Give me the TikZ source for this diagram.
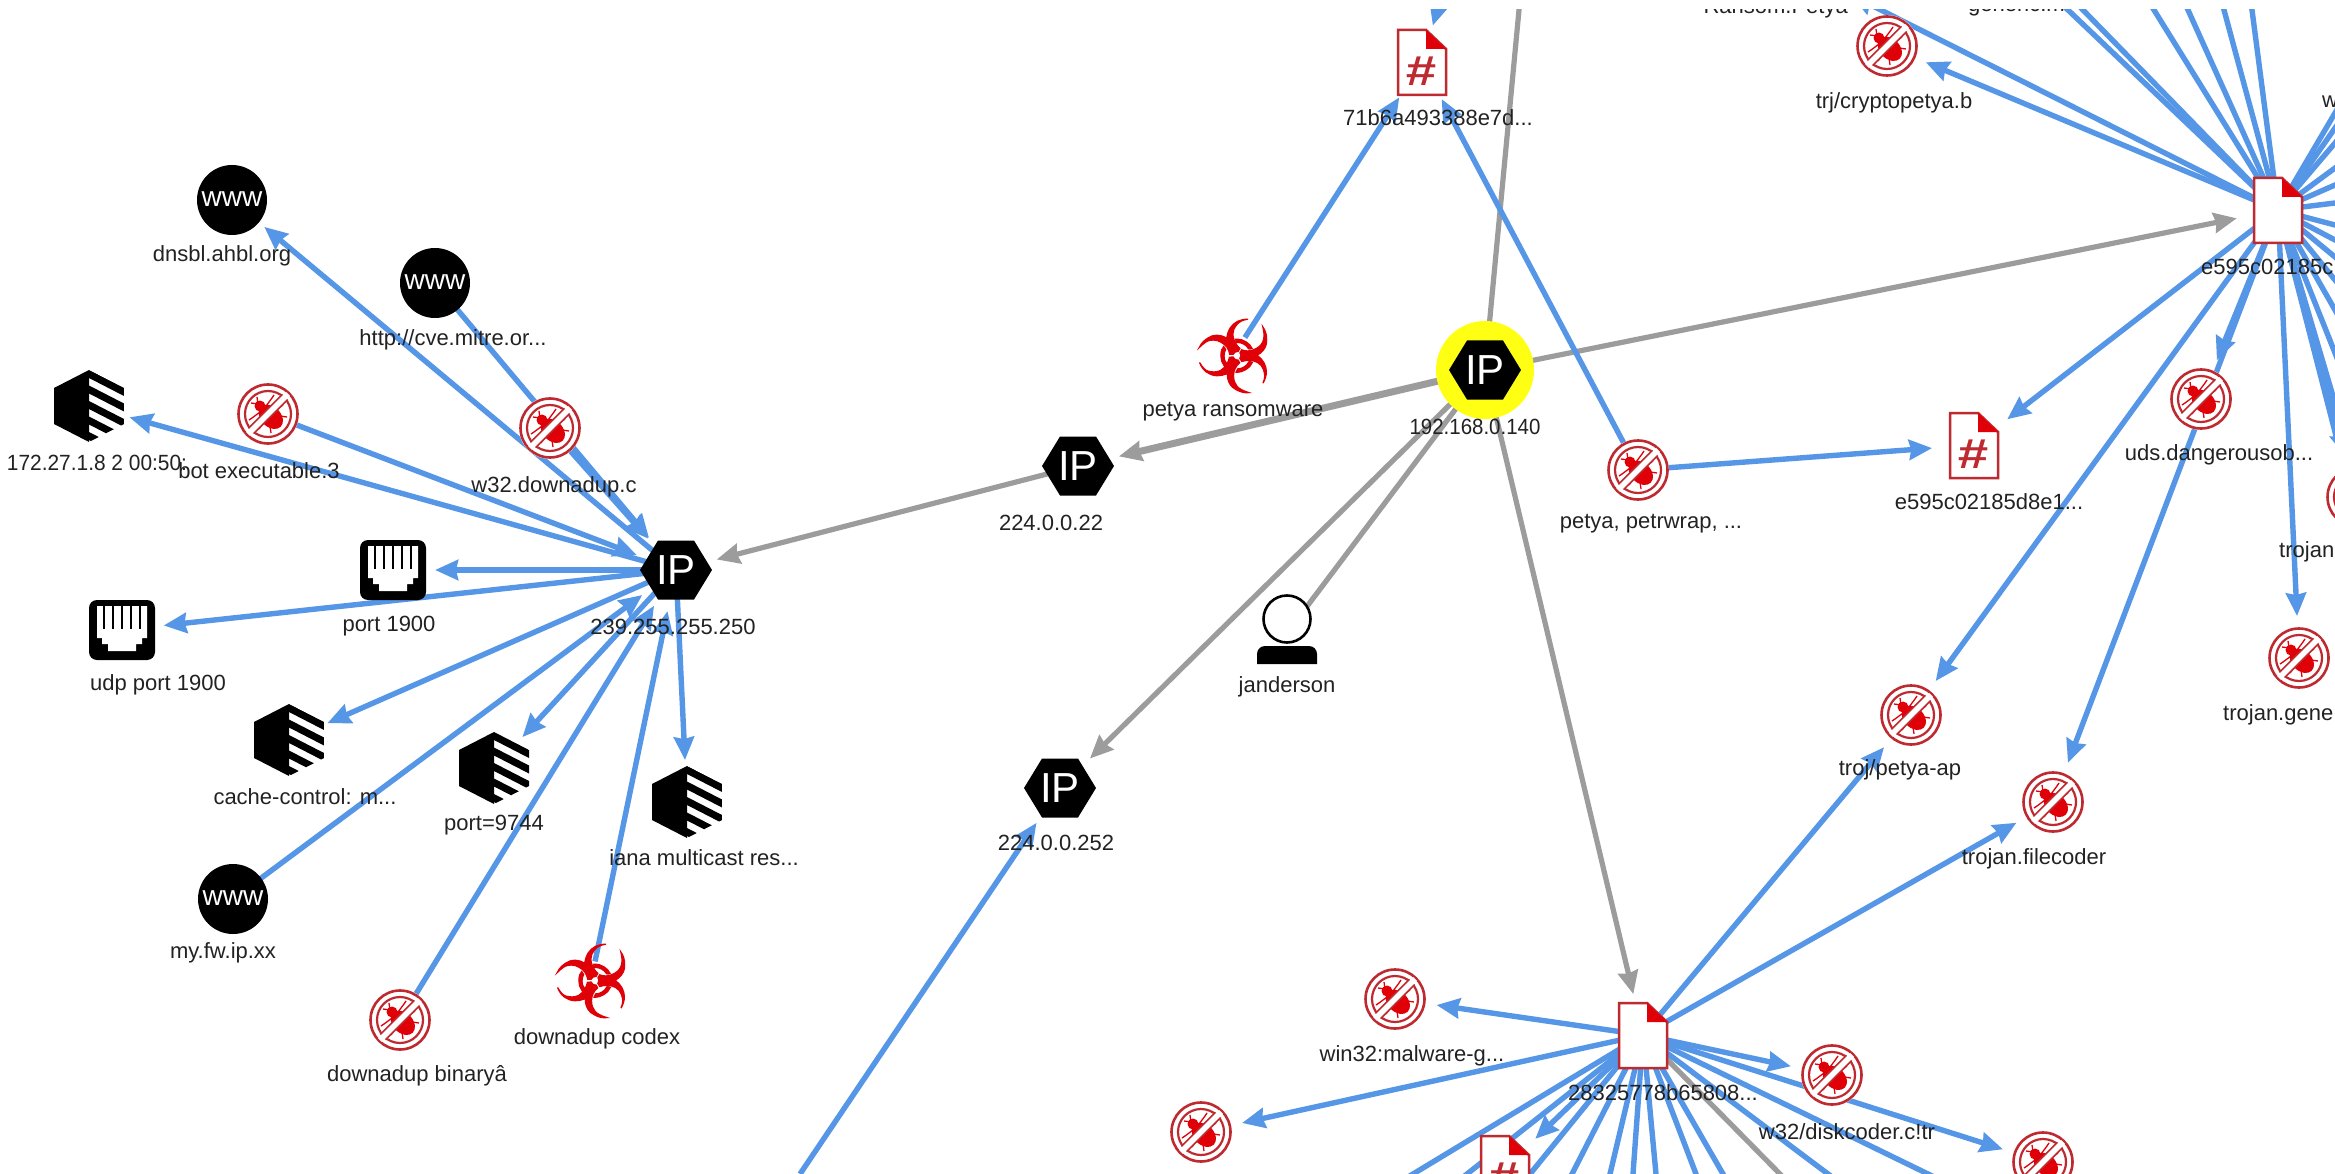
\documentclass[tikz,border=0pt]{standalone}
\usepackage{fontspec}
\setmainfont{Liberation Sans}
\newfontfamily\dejavu[FakeBold=1.4]{DejaVu Sans}
\usetikzlibrary{arrows.meta}
\definecolor{linkblue}{HTML}{5596E6}
\definecolor{linkgray}{HTML}{9C9C9C}
\definecolor{ringred}{HTML}{BE2A30}
\definecolor{fillred}{HTML}{E00008}
\definecolor{labelink}{HTML}{222222}
\definecolor{haloyellow}{HTML}{FFFF14}
\tikzset{
  spot/.style={inner sep=0pt,outer sep=0pt,minimum size=0pt},
  lab/.style={inner sep=0pt,text=labelink,font=\fontsize{22}{24}\selectfont},
  blue link/.style={draw=linkblue,line width=5.4pt,-{Stealth[length=23pt,width=20pt,inset=2pt]},shorten >=42pt},
  gray link/.style={draw=linkgray,line width=5.2pt,-{Stealth[length=23pt,width=20pt,inset=2pt]},shorten >=42pt},
  blue ray/.style={draw=linkblue,line width=5.4pt,shorten >=-10pt},
  gray ray/.style={draw=linkgray,line width=5.2pt,shorten >=-10pt},
  bugicon/.pic={
    \fill[white] (0,0) circle (31);
    \draw[ringred,line width=2.6pt] (0,0) circle (29.5);
    \draw[ringred,line width=2.2pt] (0,0) circle (23);
    \fill[fillred,rotate=-45] (4,0) ellipse (14 and 10);
    \fill[fillred] (-8,-8) circle (5.5);
    \draw[fillred,line width=1.3pt] (-10,-10) -- (-11,-17) (-10,-10) -- (-17,-11)
      (-2,-8) -- (4,-16) -- (6,-19) (-8,-2) -- (-16,4) -- (-19,6)
      (8,-4) -- (15,-9) (-4,8) -- (-9,15) (12,2) -- (19,3) (2,12) -- (3,19);
    \draw[ringred,line width=9pt] (-17,17) -- (17,-17);
    \draw[white,line width=5.5pt] (-20,20) -- (20,-20);
  },
  rackicon/.pic={
    \fill[black] (0,-36) -- (-35,-18) -- (-35,18) -- (0,36) -- cycle;
    \begin{scope}
      \clip (0,-36) -- (35,-18) -- (35,18) -- (0,36) -- cycle;
      \foreach \k in {0,1,2,3,4}{
        \fill[black] (0,-36+\k*15.5) -- (35,-18+\k*15.5) -- (35,-10+\k*15.5) -- (0,-28+\k*15.5) -- cycle;
      }
    \end{scope}
  },
  jackicon/.pic={
    \fill[black,rounded corners=8pt] (-33,-30) rectangle (33,30);
    \fill[white] (-25,-24) -- (25,-24) -- (25,8) -- (20,8) -- (20,14) -- (14,14) -- (14,21)
       -- (-14,21) -- (-14,14) -- (-20,14) -- (-20,8) -- (-25,8) -- cycle;
    \foreach \k in {-18,-9,0,9,18}{
      \draw[black,line width=2.4pt] (\k,-24) -- (\k,-1);
    }
  },
  fileicon/.pic={
    \draw[ringred,line width=2.5pt,fill=white] (-24,-32) -- (4,-32) -- (24,-13) -- (24,33) -- (-24,33) -- cycle;
    \fill[fillred] (4,-32) -- (24,-13) -- (4,-13) -- cycle;
  },
  hashicon/.pic={
    \draw[ringred,line width=2.5pt,fill=white] (-24,-32) -- (4,-32) -- (24,-13) -- (24,33) -- (-24,33) -- cycle;
    \fill[fillred] (4,-32) -- (24,-13) -- (4,-13) -- cycle;
    \node[spot,text=ringred,xscale=1.3,font=\fontsize{42}{44}\selectfont\bfseries\itshape] at (-1,9) {\#};
  },
  wwwicon/.pic={
    \fill[black] (0,0) circle (35);
    \node[spot,text=white,font=\fontsize{28}{30}\selectfont] at (0,-1) {www};
  },
  ipicon/.pic={
    \fill[black] (-36,0) -- (-18,-29.5) -- (18,-29.5) -- (36,0) -- (18,29.5) -- (-18,29.5) -- cycle;
    \node[spot,text=white,font=\fontsize{42}{44}\selectfont] at (0,0) {IP};
  },
  bioicon/.pic={
    \node[spot,rotate=90,text=fillred,font=\dejavu\fontsize{92}{94}\selectfont] at (0,0) {☣};
  },
  usericon/.pic={
    \draw[black,line width=2.6pt,fill=white] (0,-14) circle (23.5);
    \fill[black] (-30,31) [rounded corners=8pt] -- (-30,13) -- (30,13) [sharp corners] -- (30,31) -- cycle;
  },
}
\begin{document}
\begin{tikzpicture}[x=1pt,y=-1pt]
\useasboundingbox (0,0) rectangle (2335,1174);
\fill[white] (0,0) rectangle (2335,1174);
\begin{scope}
\clip (0,10) rectangle (2335,1174);
% --- nodes (positions)
\node[spot] (ipA) at (676,570) {};
\node[spot] (ipB) at (1078,466) {};
\node[spot] (ipC) at (1060,788) {};
\node[spot] (ipM) at (1485,370) {};
\node[spot] (wDns) at (232,200) {};
\node[spot] (wCve) at (435,283) {};
\node[spot] (wFw) at (233,899) {};
\node[spot] (r172) at (89,406) {};
\node[spot] (rCache) at (289,740) {};
\node[spot] (rPort) at (494,768) {};
\node[spot] (rIana) at (687,802) {};
\node[spot] (jPort) at (393,570) {};
\node[spot] (jUdp) at (122,630) {};
\node[spot] (bBot) at (268,414) {};
\node[spot] (bW32) at (550,428) {};
\node[spot] (bBin) at (400,1020) {};
\node[spot] (hCodex) at (591,981) {};
\node[spot] (hPetya) at (1233,356) {};
\node[spot] (user) at (1287,633) {};
\node[spot] (hA) at (1422,62) {};
\node[spot] (hB) at (1974,445) {};
\node[spot] (hC) at (1505,1168) {};
\node[spot] (fE) at (2278,210) {};
\node[spot] (fB) at (1643,1035) {};
\node[spot] (bPetya) at (1638,470) {};
\node[spot] (bTrj) at (1887,46) {};
\node[spot] (bUds) at (2201,399) {};
\node[spot] (bRight) at (2357,497) {};
\node[spot] (bGene) at (2299,658) {};
\node[spot] (bAp) at (1911,715) {};
\node[spot] (bFile) at (2053,802) {};
\node[spot] (bWin) at (1395,999) {};
\node[spot] (bLow) at (1201,1132) {};
\node[spot] (bDisk) at (1832,1075) {};
\node[spot] (bLowR) at (2043,1162) {};
% free ends
\coordinate (upM) at (1519,10);
\coordinate (inC) at (800,1174);
\coordinate (inA) at (1441,-2);
\coordinate (tipRansom) at (1851,-5);
\foreach \n/\x in {t1/2068,t2/2083,t3/2154,t4/2188,t5/2224,t6/2252}{\coordinate (\n) at (\x,10);}
\foreach \n/\y in {e1/113,e2/128,e3/143,e4/168,e5/185,e6/203,e7/225,e8/240,e9/257,e10/280,e11/310,e12/353,e13/403,e14/432}{\coordinate (\n) at (2335,\y);}
\foreach \n/\x in {s1/1413,s2/1467,s3/1530,s4/1572,s5/1610,s6/1633,s7/1656,s8/1696,s9/1723,s10/1828,s11/1928}{\coordinate (\n) at (\x,1174);}
\coordinate (sGray) at (1780,1174);
% --- gray connectors
\draw[gray ray] (ipM.center) -- (upM);
\draw[gray link] (ipM.center) -- (fE.center);
\draw[gray link,line width=7pt] (ipM.center) -- (ipB.center);
\draw[gray link] (ipB.center) -- (ipA.center);
\draw[gray link] (ipM.center) -- (ipC.center);
\draw[gray link] (ipM.center) -- (fB.center);
\draw[gray ray,shorten >=0pt] (ipM.center) -- (user.center);
\draw[gray ray] (fB.center) -- (sGray);
% --- blue connectors, left cluster
\draw[blue link] (ipA.center) -- (wDns.center);
\draw[blue link] (wCve.center) -- (ipA.center);
\draw[blue link] (bW32.center) -- (ipA.center);
\draw[blue link] (bBot.center) -- (ipA.center);
\draw[blue link] (ipA.center) -- (r172.center);
\draw[blue link] (ipA.center) -- (jPort.center);
\draw[blue link] (ipA.center) -- (jUdp.center);
\draw[blue link] (ipA.center) -- (rCache.center);
\draw[blue link] (ipA.center) -- (rPort.center);
\draw[blue link] (ipA.center) -- (rIana.center);
\draw[blue link] (wFw.center) -- (ipA.center);
\draw[blue link] (bBin.center) -- (ipA.center);
\draw[blue link,shorten <=20pt] (hCodex.center) -- (ipA.center);
% --- blue connectors, middle
\draw[blue link] (inC) -- (ipC.center);
\draw[blue link,shorten <=22pt] (hPetya.center) -- (hA.center);
\draw[blue link] (bPetya.center) -- (hA.center);
\draw[blue link] (bPetya.center) -- (hB.center);
\draw[blue link,shorten >=38pt] (inA) -- (hA.center);
% --- blue connectors, upper right file
\draw[blue link] (fE.center) -- (hB.center);
\draw[blue link] (fE.center) -- (bTrj.center);
\draw[blue link,shorten >=0pt] (fE.center) -- (tipRansom);
\draw[blue link] (fE.center) -- (bUds.center);
\draw[blue link] (fE.center) -- (bFile.center);
\draw[blue link] (fE.center) -- (bAp.center);
\draw[blue link] (fE.center) -- (bGene.center);
\draw[blue link] (fE.center) -- (bRight.center);
\foreach \n in {t1,t2,t3,t4,t5,t6,e1,e2,e3,e4,e5,e6,e7,e8,e9,e10,e11,e12,e13,e14}{
  \draw[blue ray] (fE.center) -- (\n);
}
% --- blue connectors, lower file
\draw[blue link] (fB.center) -- (bAp.center);
\draw[blue link] (fB.center) -- (bFile.center);
\draw[blue link] (fB.center) -- (bWin.center);
\draw[blue link] (fB.center) -- (bLow.center);
\draw[blue link] (fB.center) -- (bDisk.center);
\draw[blue link] (fB.center) -- (bLowR.center);
\draw[blue link] (fB.center) -- (hC.center);
\foreach \n in {s1,s2,s3,s4,s5,s6,s7,s8,s9,s10,s11}{
  \draw[blue ray] (fB.center) -- (\n);
}
% --- icons
\fill[haloyellow] (ipM) circle (49);
\foreach \n in {ipA,ipB,ipC,ipM}{\pic at (\n) {ipicon};}
\foreach \n in {wDns,wCve,wFw}{\pic at (\n) {wwwicon};}
\foreach \n in {r172,rCache,rPort,rIana}{\pic at (\n) {rackicon};}
\foreach \n in {jPort,jUdp}{\pic at (\n) {jackicon};}
\foreach \n in {bBot,bW32,bBin,bPetya,bTrj,bUds,bRight,bGene,bAp,bFile,bWin,bLow,bDisk,bLowR}{\pic at (\n) {bugicon};}
\foreach \n in {hCodex,hPetya}{\pic at (\n) {bioicon};}
\foreach \n in {hA,hB,hC}{\pic at (\n) {hashicon};}
\foreach \n in {fE,fB}{\pic at (\n) {fileicon};}
\pic at (user) {usericon};
% --- labels
\node[lab] (l1) at (222,256) {dnsbl.ahbl.org};
\node[lab] (l2) at (453,340) {http://cve.mitre.or...};
\node[lab,xscale=.95] (l3) at (97,463) {172.27.1.8 2 00:50:};
\node[lab] (l4) at (259,471) {bot executable.3};
\node[lab] (l5) at (554,487) {w32.downadup.c};
\node[lab] (l6) at (673,627) {239.255.255.250};
\node[lab] (l7) at (389,626) {port 1900};
\node[lab] (l8) at (158,685) {udp port 1900};
\node[lab] (l9) at (305,797) {cache-control: m...};
\node[lab] (l10) at (494,825) {port=9744};
\node[lab] (l11) at (704,858) {iana multicast res...};
\node[lab] (l12) at (223,953) {my.fw.ip.xx};
\node[lab] (l13) at (417,1076) {downadup binaryâ};
\node[lab] (l14) at (597,1039) {downadup codex};
\node[lab] (l15) at (1051,523) {224.0.0.22};
\node[lab] (l16) at (1056,843) {224.0.0.252};
\node[lab] (l17) at (1287,687) {janderson};
\node[lab] (l18) at (1233,412) {petya ransomware};
\node[lab,xscale=.93] (l19) at (1475,427) {192.168.0.140};
\node[lab] (l20) at (1438,118) {71b6a493388e7d...};
\node[lab] (l21) at (1651,524) {petya, petrwrap, ...};
\node[lab] (l22) at (1989,502) {e595c02185d8e1...};
\node[lab,anchor=west] (l23) at (2201,267) {e595c02185c};
\node[lab] (l24) at (1894,103) {trj/cryptopetya.b};
\node[lab,anchor=base east] (l25) at (1848,14) {Ransom.Petya};
\node[lab,anchor=base west] (l26) at (1968,12) {generic.m};
\node[lab,anchor=west] (l27) at (2322,102) {w};
\node[lab,anchor=west] (l28) at (2279,552) {trojan};
\node[lab,anchor=west] (l29) at (2223,715) {trojan.gene};
\node[lab] (l30) at (2219,455) {uds.dangerousob...};
\node[lab] (l31) at (1900,770) {troj/petya-ap};
\node[lab] (l32) at (2034,859) {trojan.filecoder};
\node[lab] (l33) at (1412,1056) {win32:malware-g...};
\node[lab] (l34) at (1663,1093) {28325778b65808...};
\node[lab] (l35) at (1847,1132) {w32/diskcoder.c!tr};
\end{scope}
\end{tikzpicture}
\end{document}
